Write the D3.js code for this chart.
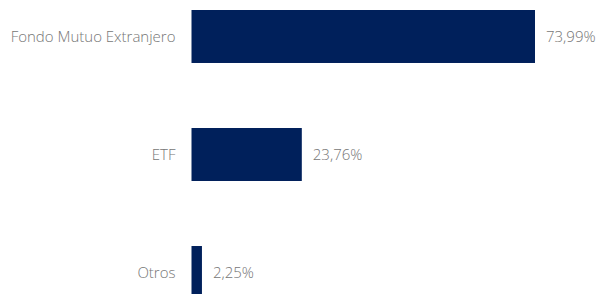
<!DOCTYPE html>
<html>
<head>
<meta charset="utf-8">
<script src="https://cdn.jsdelivr.net/npm/d3@7"></script>
<style>
  body { margin: 0; background: #fff; }
  text { font-family: "Open Sans", sans-serif; font-weight: 300; fill: #767676; }
</style>
</head>
<body>
<div class="graph"></div>
<script>
// data
const categories = ["Fondo Mutuo Extranjero", "ETF", "Otros"];
const values = [73.99, 23.76, 2.25];
const valueLabels = ["73,99%", "23,76%", "2,25%"];

const SIZE = {X: 596, Y: 294};
const LEFT = 191.5;

const svg = d3.select(".graph").append("svg")
    .attr("width", SIZE.X)
    .attr("height", SIZE.Y)
    .style("display", "block");

// scales
const x = d3.scaleLinear()
    .domain([0, 73.99])
    .range([LEFT, 535]);

const y = d3.scaleBand()
    .domain(categories)
    .range([10, 299])
    .paddingInner(0.551)
    .paddingOuter(0);

// category labels
svg.append("g")
    .selectAll("text")
    .data(categories)
    .enter()
    .append("text")
        .attr("x", LEFT - 16)
        .attr("y", d => y(d) + y.bandwidth() / 2)
        .attr("dy", "0.35em")
        .attr("text-anchor", "end")
        .attr("font-size", 15)
        .text(d => d);

// bars
svg.append("g")
    .selectAll("rect")
    .data(values)
    .enter()
    .append("rect")
        .attr("x", x(0))
        .attr("y", (d, i) => y(categories[i]))
        .attr("width", d => x(d) - x(0))
        .attr("height", y.bandwidth())
        .attr("fill", "#00205b");

// value labels
svg.append("g")
    .selectAll("text")
    .data(values)
    .enter()
    .append("text")
        .attr("x", d => x(d) + 11)
        .attr("y", (d, i) => y(categories[i]) + y.bandwidth() / 2)
        .attr("dy", "0.35em")
        .attr("font-size", 15)
        .text((d, i) => valueLabels[i]);
</script>
</body>
</html>
